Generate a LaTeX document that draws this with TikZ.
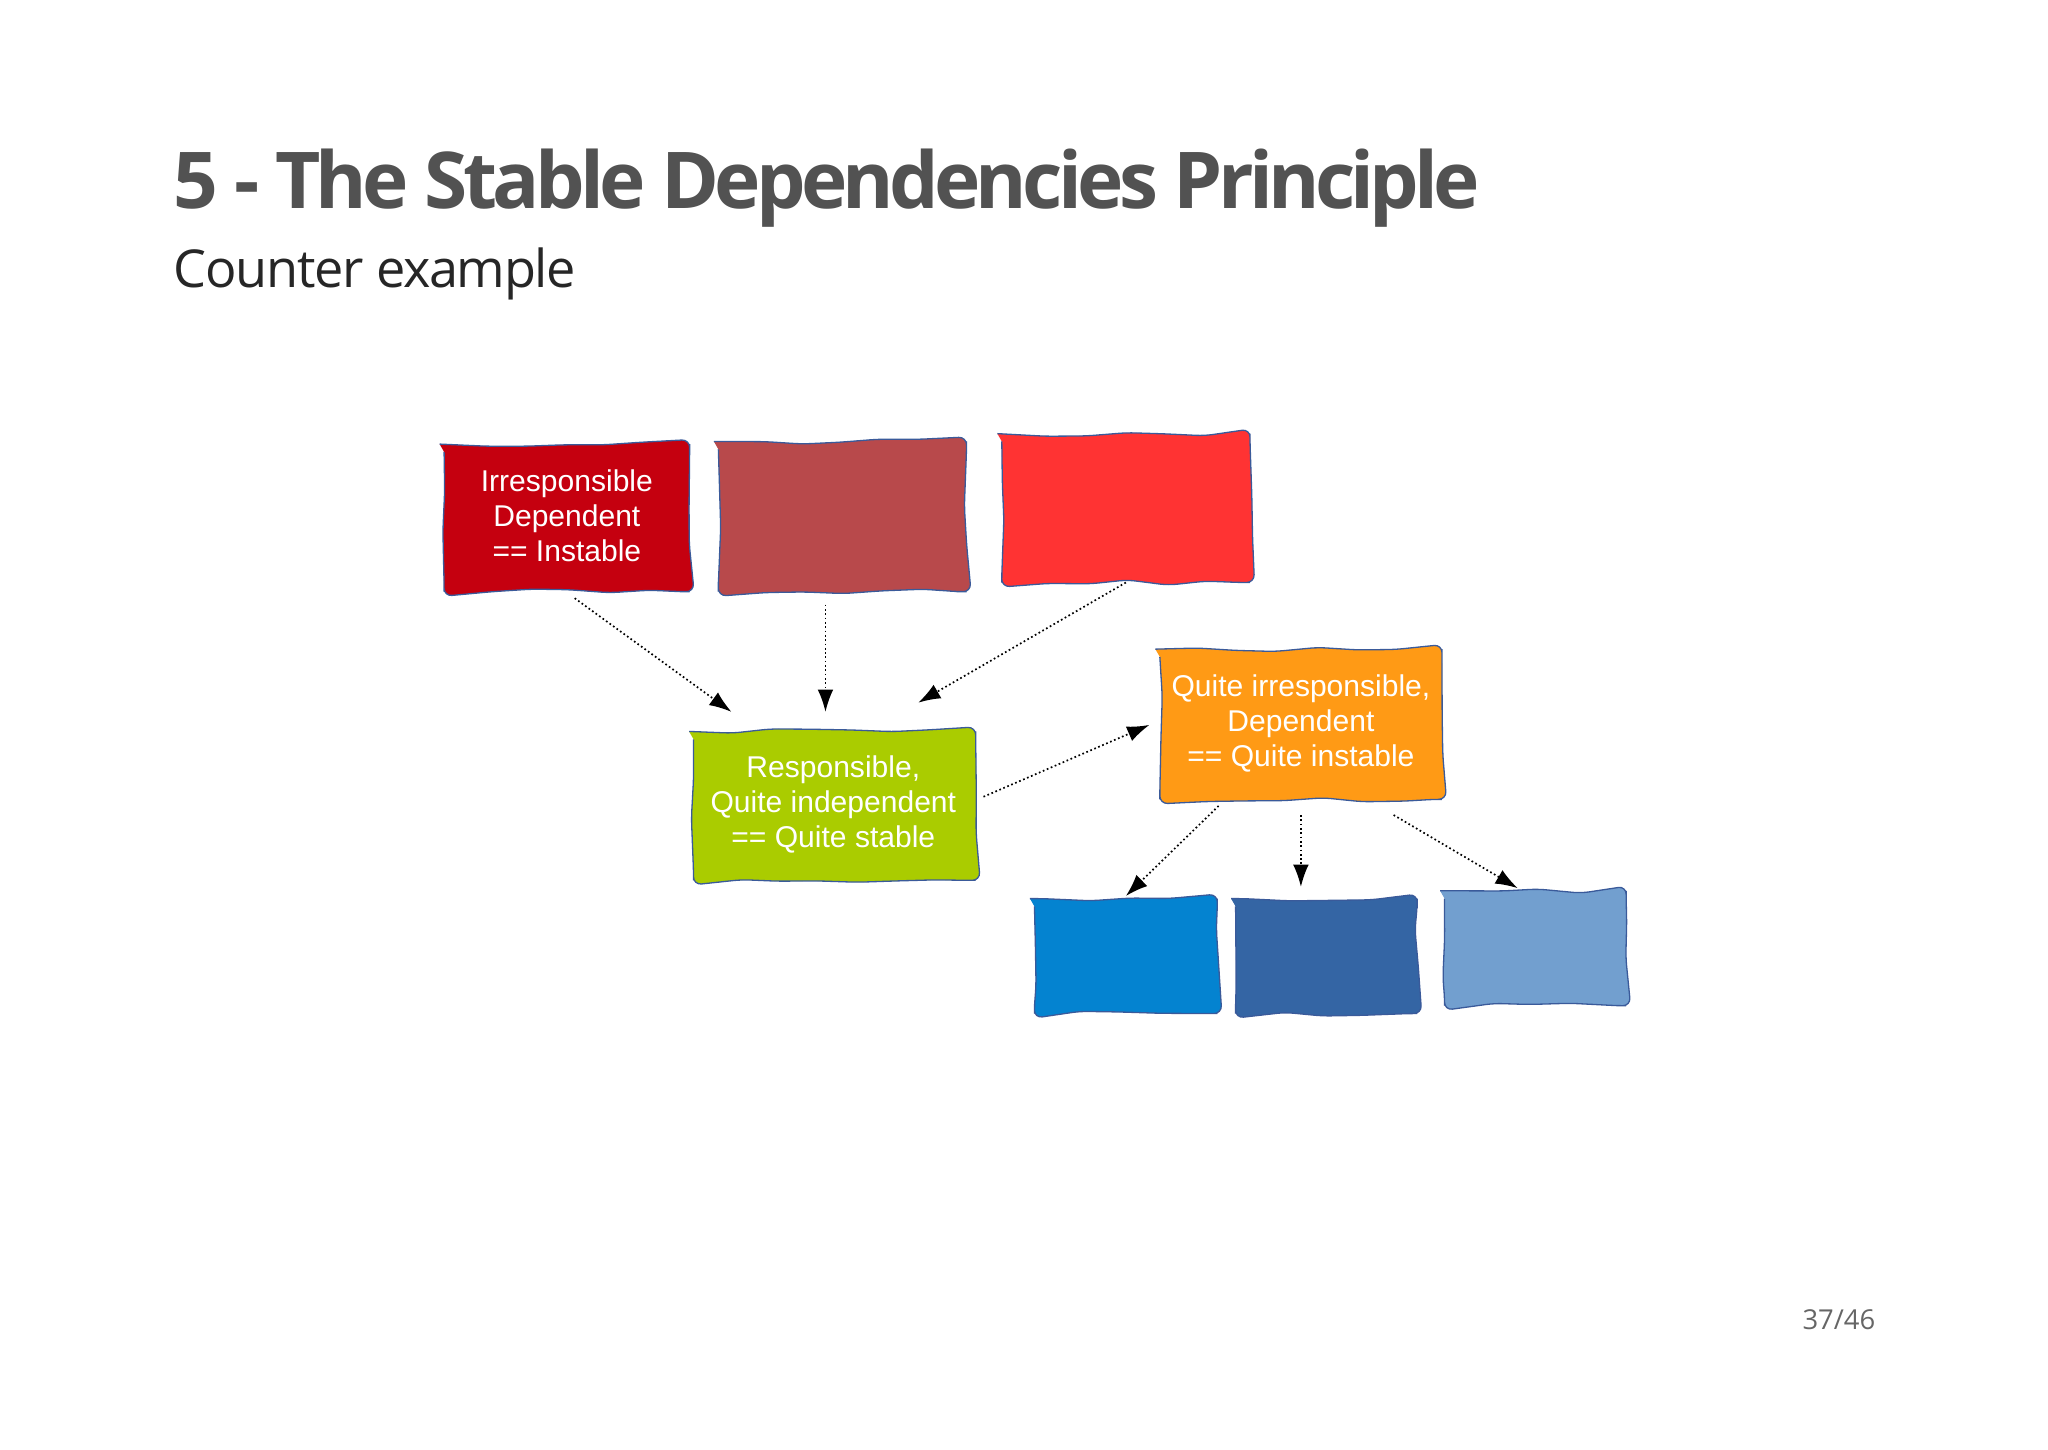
\documentclass[tikz,border=0pt]{standalone}
\usepackage{fontspec}
\setmainfont{Open Sans}
\newfontfamily\titlefont[LetterSpace=-6]{Open Sans}
\newfontfamily\subfont[LetterSpace=-2.5]{Open Sans}
\newfontfamily\boxfont{Liberation Sans}
\usetikzlibrary{decorations.pathmorphing,arrows.meta}
\definecolor{rA}{HTML}{C5000F}
\definecolor{rB}{HTML}{B8494B}
\definecolor{rC}{HTML}{FF3333}
\definecolor{gA}{HTML}{AACC00}
\definecolor{oA}{HTML}{FF9A15}
\definecolor{bA}{HTML}{0483D0}
\definecolor{bB}{HTML}{3465A4}
\definecolor{bC}{HTML}{729FCF}
\definecolor{edge}{HTML}{3A5A9A}
\tikzset{
 wbox/.style={draw=edge, line width=1pt, rounded corners=6pt,
   decoration={random steps,segment length=30pt,amplitude=2pt}, decorate},
 btxt/.style={text=white, align=center, font=\boxfont\fontsize{23}{27}\selectfont},
 dep/.style={dotted, line width=1.3pt, -{Latex[length=17pt,width=12pt]}},
}
\begin{document}
\pgfmathsetseed{7}
\begin{tikzpicture}[x=1pt,y=-1pt]
\useasboundingbox (0,0) rectangle (1568,1110);
\node[anchor=base west, text=black!68, inner sep=0, font=\titlefont\fontsize{60}{70}\selectfont\bfseries] (title) at (133,160) {5 - The Stable Dependencies Principle};
\node[anchor=base west, text=black!85, inner sep=0, font=\subfont\fontsize{40}{48}\selectfont] (sub) at (133,220) {Counter example};
\node[anchor=base east, text=black!60, inner sep=0, font=\fontsize{21}{26}\selectfont] (pg) at (1436,1018) {37/46};
% boxes
\fill[rA,wbox] (340,340) rectangle (528,453);
\fill[rB,wbox] (550,338) rectangle (740,453);
\fill[rC,wbox] (767,332) rectangle (957,446);
\fill[gA,wbox] (531,560) rectangle (747,674);
\fill[oA,wbox] (888,497) rectangle (1104,612);
\fill[bA,wbox] (792,688) rectangle (932,776);
\fill[bB,wbox] (946,688) rectangle (1085,776);
\fill[bC,wbox] (1106,682) rectangle (1245,770);
\node[btxt] (t1) at (434,395) {Irresponsible\\Dependent\\== Instable};
\node[btxt] (t2) at (638,616) {Responsible,\\Quite independent\\== Quite stable};
\node[btxt] (t3) at (996,554) {Quite irresponsible,\\Dependent\\== Quite instable};
% arrow endpoints
\coordinate (a1) at (440,458); \coordinate (b1) at (560,545);
\coordinate (a2) at (632,463); \coordinate (b2) at (632,545);
\coordinate (a3) at (862,446); \coordinate (b3) at (703,538);
\coordinate (a4) at (753,610); \coordinate (b4) at (880,555);
\coordinate (a5) at (933,617); \coordinate (b5) at (862,686);
\coordinate (a6) at (996,624); \coordinate (b6) at (996,679);
\coordinate (a7) at (1067,624); \coordinate (b7) at (1162,680);
\foreach \i in {1,...,7}{\draw[dep] (a\i) -- (b\i);}
\end{tikzpicture}
\end{document}
